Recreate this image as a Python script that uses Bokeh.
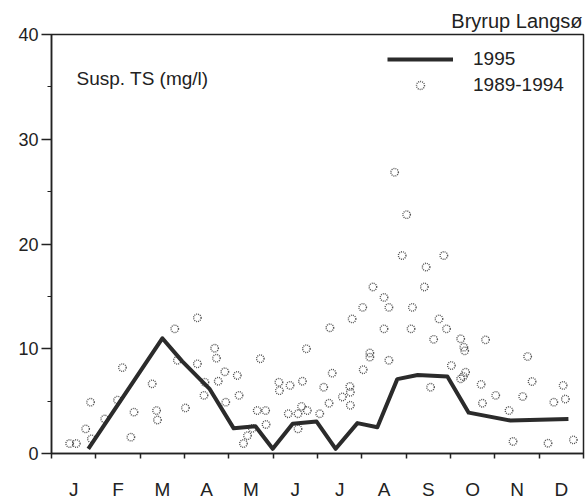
from bokeh.plotting import figure
from bokeh.models import Legend, LegendItem, Label, FixedTicker, Range1d, Title
from bokeh.embed import file_html
from bokeh.resources import INLINE

# ---- data (x in months from 1 Jan, 0..12) ----
month_labels = ["J", "F", "M", "A", "M", "J", "J", "A", "S", "O", "N", "D"]
month_centers = [0.5, 1.5, 2.5, 3.5, 4.5, 5.5, 6.5, 7.5, 8.5, 9.5, 10.5, 11.5]
month_bounds = [0, 1, 2, 3, 4, 5, 6, 7, 8, 9, 10, 11, 12]
y_ticks = [0, 10, 20, 30, 40]
y_minor = [5, 15, 25, 35]

x_1995 = [0.83, 2.50, 2.95, 3.56, 4.11, 4.60, 4.99, 5.44, 5.98, 6.41, 6.90,
          7.35, 7.80, 8.26, 8.93, 9.41, 10.35, 11.66]
ts_1995 = [0.45, 11.0, 8.8, 6.2, 2.4, 2.6, 0.45, 2.85, 3.05, 0.45, 2.9,
           2.5, 7.1, 7.5, 7.35, 3.9, 3.15, 3.3]

x_hist = [0.41, 0.56, 0.77, 0.88, 0.90, 1.20, 1.49, 1.60, 1.79, 1.86, 2.27,
          2.37, 2.39, 2.78, 2.84, 3.29, 3.29, 3.68, 3.72, 3.91, 3.76, 3.46,
          3.44, 3.02, 3.93, 4.19, 4.23, 4.71, 4.64, 4.83, 4.84, 4.33, 4.42,
          4.53, 5.13, 5.14, 5.38, 5.66, 5.75, 5.34, 5.56, 5.64, 5.77, 5.56,
          6.05, 6.14, 6.26, 6.28, 6.33, 6.56, 6.73, 6.74, 6.74, 6.78, 7.02,
          7.03, 7.18, 7.18, 7.25, 7.50, 7.50, 7.61, 7.61, 7.74, 7.91, 8.01,
          8.14, 8.11, 8.41, 8.45, 8.55, 8.62, 8.74, 8.85, 8.91, 9.02, 9.23,
          9.30, 9.32, 9.34, 9.29, 9.23, 9.69, 9.79, 9.72, 10.02, 10.32, 10.41,
          10.63, 10.74, 10.84, 11.20, 11.33, 11.54, 11.59, 11.77]
ts_hist = [0.95, 0.95, 2.35, 4.9, 1.4, 3.3, 5.1, 8.2, 1.56, 3.95, 6.65,
           4.1, 3.2, 11.9, 8.9, 12.95, 8.56, 10.05, 9.1, 7.8, 6.9, 6.8,
           5.55, 4.35, 4.9, 7.45, 5.55, 9.05, 4.1, 4.1, 2.77, 0.95, 1.7,
           2.4, 6.8, 6.0, 6.5, 6.9, 10.0, 3.8, 3.8, 4.5, 4.1, 2.35,
           3.8, 6.33, 4.8, 12.0, 7.67, 5.4, 6.4, 5.85, 4.6, 12.85, 13.95,
           8.0, 9.6, 9.2, 15.9, 14.9, 11.9, 13.95, 8.9, 26.85, 18.9, 22.8,
           13.95, 11.9, 15.9, 17.8, 6.33, 10.9, 12.85, 18.9, 11.9, 8.4, 10.95,
           10.15, 9.8, 7.76, 7.35, 7.13, 6.6, 10.85, 4.8, 5.55, 4.1, 1.15,
           5.44, 9.26, 6.87, 0.98, 4.9, 6.5, 5.2, 1.3]

FONT = "Liberation Sans"
INK = "#222222"

p = figure(width=587, height=502, x_range=Range1d(0, 12), y_range=Range1d(0, 40),
           output_backend="svg", toolbar_location=None, title=None,
           min_border_left=51, min_border_right=4, min_border_top=34, min_border_bottom=49)

p.add_layout(Title(text="Bryrup Langsø", align="right", text_font=FONT,
                   text_font_size="20px", text_font_style="normal",
                   text_color=INK, standoff=5, offset=1), "above")

p.xgrid.visible = False
p.ygrid.visible = False
p.outline_line_color = INK
p.outline_line_width = 1.5
p.background_fill_color = "white"

# x axis: month boundaries as (minor) ticks, labels at month centres
xa = p.xaxis[0]
xa.ticker = FixedTicker(ticks=month_centers, minor_ticks=month_bounds)
xa.major_label_overrides = {c: l for c, l in zip(month_centers, month_labels)}
xa.major_tick_line_color = None
xa.major_tick_out = 0
xa.major_tick_in = 0
xa.minor_tick_out = 5
xa.minor_tick_in = 0
xa.minor_tick_line_color = INK
xa.minor_tick_line_width = 1.5
xa.axis_line_color = INK
xa.axis_line_width = 1.5
xa.major_label_standoff = 20
xa.major_label_text_font = FONT
xa.major_label_text_font_size = "19px"
xa.major_label_text_color = INK

ya = p.yaxis[0]
ya.ticker = FixedTicker(ticks=y_ticks, minor_ticks=y_minor)
ya.major_tick_out = 10
ya.major_tick_in = 0
ya.minor_tick_out = 4
ya.minor_tick_in = 0
ya.major_tick_line_color = INK
ya.minor_tick_line_color = INK
ya.major_tick_line_width = 1.5
ya.axis_line_color = INK
ya.axis_line_width = 1.5
ya.major_label_standoff = 3
ya.major_label_text_font = FONT
ya.major_label_text_font_size = "18px"
ya.major_label_text_color = INK

sc = p.scatter(x_hist, ts_hist, marker="circle", size=7.5, fill_color=None,
               line_color="#555555", line_width=1.4, line_dash="1 1")
ln = p.line(x_1995, ts_1995, line_color="#2b2b2b", line_width=4, line_join="round")

legend = Legend(items=[LegendItem(label="1995", renderers=[ln]),
                       LegendItem(label="1989-1994", renderers=[sc])],
                location=(336, 357), glyph_width=66, glyph_height=20,
                label_height=20, label_standoff=20, spacing=4, padding=10, margin=0,
                border_line_color=None, background_fill_alpha=0,
                label_text_font=FONT, label_text_font_size="19px",
                label_text_color=INK)
p.add_layout(legend)

p.add_layout(Label(x=0, y=40, text="Susp. TS (mg/l)", text_align="left",
                   text_baseline="alphabetic", x_offset=25, y_offset=-44,
                   text_font=FONT, text_font_size="19px", text_color=INK))

open("out.html", "w").write(file_html(p, INLINE))
